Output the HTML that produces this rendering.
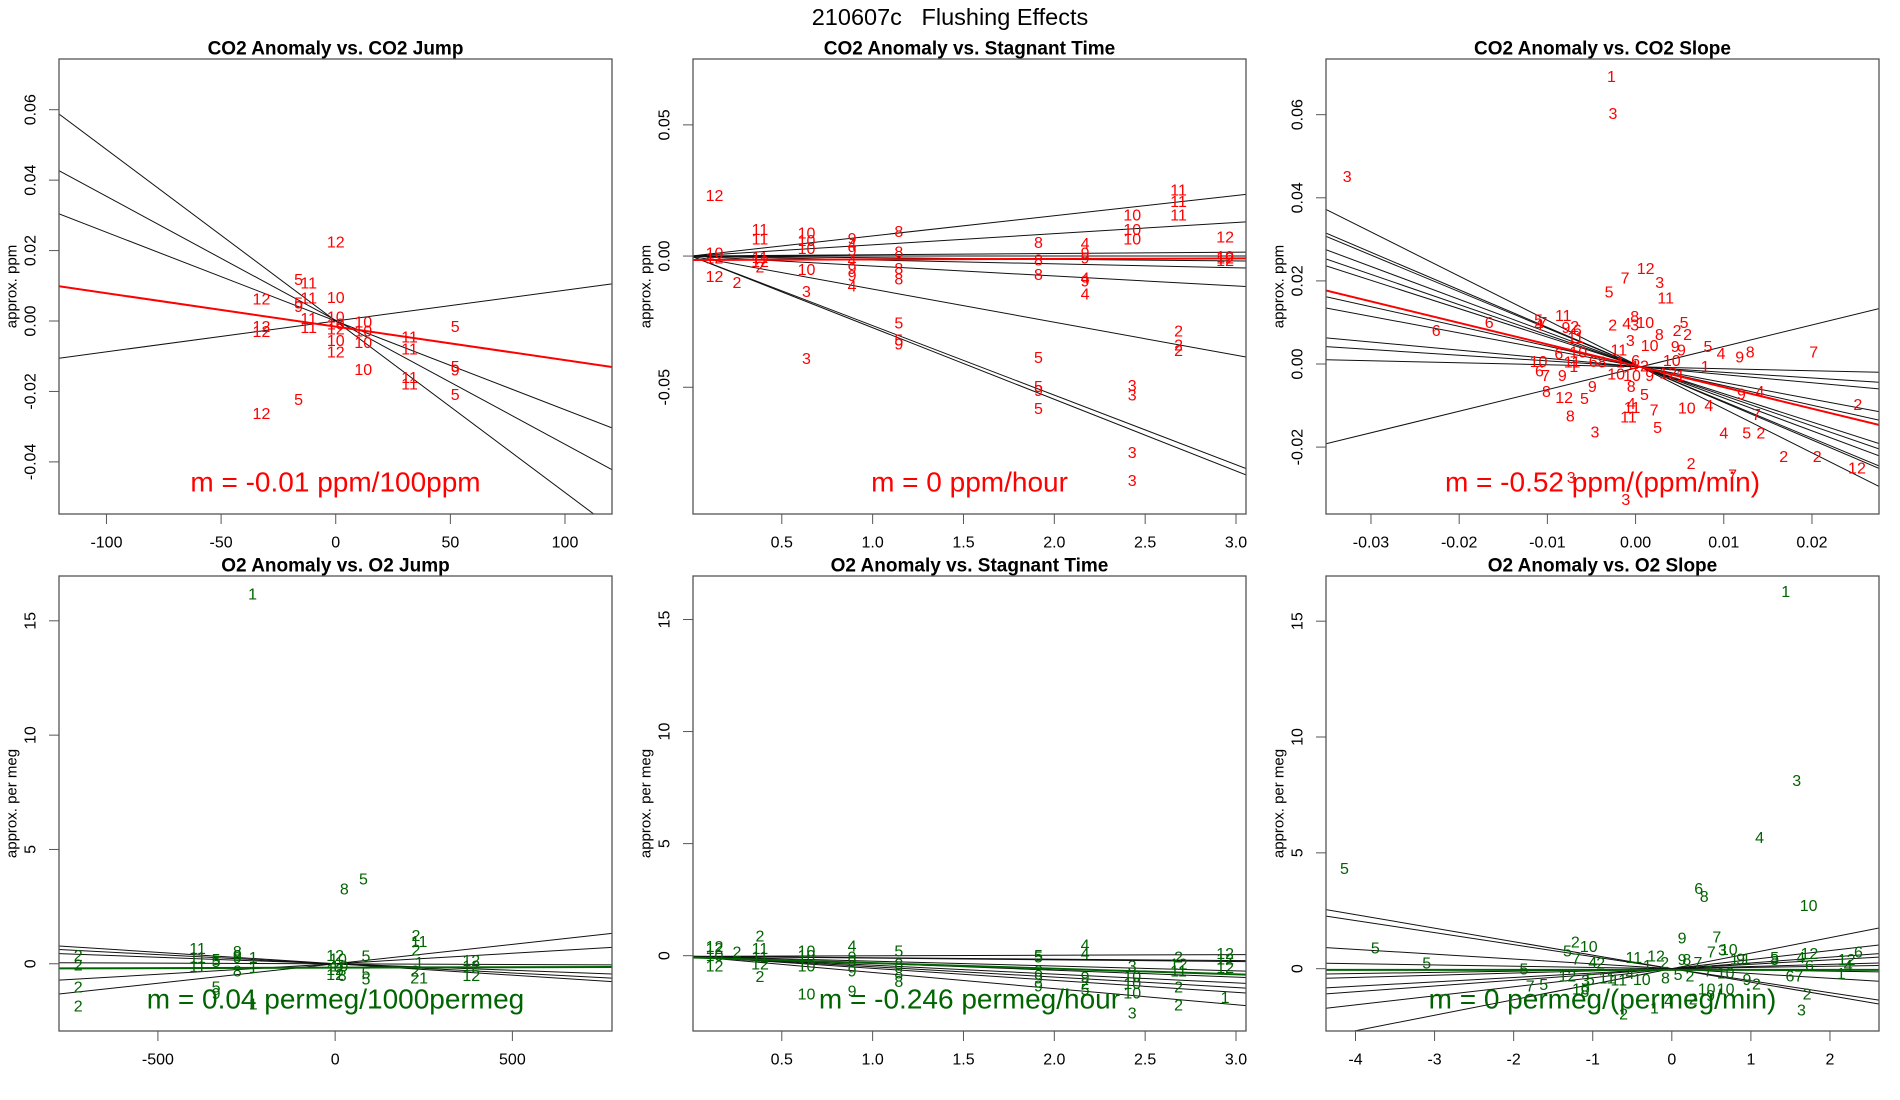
<!DOCTYPE html>
<html><head><meta charset="utf-8"><style>
html,body{margin:0;padding:0;background:#fff;}
svg{display:block;font-family:"Liberation Sans",Arial,sans-serif;}
</style></head><body>
<svg id="chart" width="1900" height="1100" viewBox="0 0 1900 1100" xmlns="http://www.w3.org/2000/svg">
<rect x="0" y="0" width="1900" height="1100" fill="#fff"/>
<text x="950" y="17" font-size="23.5" text-anchor="middle" dominant-baseline="central" fill="#000" xml:space="preserve">210607c   Flushing Effects</text>
</svg>
<script>
// ---------- Panel 1: CO2 Anomaly vs. CO2 Jump ----------
const p1Labels = ["12","5","11","12","11","10","5","9","11","10","12","12","11","10","12","10","10","10","10","12","10","5","11","11","5","9","11","11","5","5","12"];
const p1X = [0,-16.2,-11.8,-32.4,-11.8,0,-16.2,-16.2,-11.8,0,-32.4,-32.4,-11.8,0,0,12,12,0,12,0,12,52.1,32.2,32.2,52.1,52.1,32.2,32.2,52.1,-16.2,-32.4];
const p1Y = [0.0221,0.0115,0.0105,0.0059,0.0062,0.0064,0.0048,0.0038,0.0004,0.0009,-0.0018,-0.0033,-0.0021,-0.0011,-0.0026,-0.0006,-0.0031,-0.0058,-0.0064,-0.0091,-0.014,-0.0018,-0.0048,-0.0083,-0.0132,-0.0142,-0.0163,-0.0182,-0.0212,-0.0225,-0.0265];
const p1Slopes = [-0.000487,-0.000352,-0.000252,0.0000875];
const p1Intercepts = [0,0.0002,0,0];
const p1Fit = [-0.000095,-0.0016];
const p1XTicks = [-100,-50,0,50,100];
const p1YTicks = [-0.04,-0.02,0.00,0.02,0.04,0.06];
const p1YTickLabels = ["-0.04","-0.02","0.00","0.02","0.04","0.06"];

// ---------- Panel 2: CO2 Anomaly vs. Stagnant Time ----------
const p2Labels = ["12","10","12","12","2","11","11","11","12","2","10","10","10","10","3","3","9","4","9","4","9","9","4","8","8","8","8","5","5","9","8","8","8","5","5","9","5","4","9","9","4","9","4","10","10","10","3","3","3","3","11","11","11","2","2","2","12","10","12","12"];
const p2X = [0.13,0.13,0.13,0.13,0.253,0.38,0.38,0.38,0.38,0.38,0.636,0.636,0.636,0.636,0.636,0.636,0.887,0.887,0.887,0.887,0.887,0.887,0.887,1.144,1.144,1.144,1.144,1.144,1.144,1.144,1.913,1.913,1.913,1.913,1.913,1.913,1.913,2.169,2.169,2.169,2.169,2.169,2.169,2.429,2.429,2.429,2.429,2.429,2.429,2.429,2.684,2.684,2.684,2.684,2.684,2.684,2.94,2.94,2.94,2.94];
const p2Y = [0.0227,0.0007,-0.0012,-0.0081,-0.0105,0.0097,0.0061,-0.0009,-0.0025,-0.0045,0.0084,0.0055,0.0025,-0.0055,-0.0138,-0.0394,0.0064,0.0041,0.0017,-0.0018,-0.0052,-0.0078,-0.0118,0.009,0.0012,-0.0052,-0.0092,-0.0258,-0.0324,-0.0338,0.0048,-0.0019,-0.0074,-0.0391,-0.0501,-0.0517,-0.0584,0.0045,0.0008,-0.0012,-0.0088,-0.0098,-0.0149,0.0152,0.0098,0.0061,-0.0497,-0.0533,-0.0753,-0.086,0.0247,0.0205,0.0152,-0.0289,-0.0342,-0.0364,0.0068,-0.0005,-0.0012,-0.002];
const p2Slopes = [0.00769,0.00427,0.00049,0,-0.00062,-0.00149,-0.0038,-0.0126,-0.0265,-0.0273];
const p2Intercepts = [0,0,0,0,0,0,0,0,0,0];
const p2Fit = [0.0002,-0.0015];
const p2XTicks = [0.5,1.0,1.5,2.0,2.5,3.0];
const p2XTickLabels = ["0.5","1.0","1.5","2.0","2.5","3.0"];
const p2YTicks = [-0.05,0.00,0.05];
const p2YTickLabels = ["-0.05","0.00","0.05"];

// ---------- Panel 3: CO2 Anomaly vs. CO2 Slope ----------
const p3Labels = ["1","3","3","12","7","3","5","11","11","5","4","7","9","2","6","2","4","8","3","10","6","6","11","8","2","2","5","3","10","9","9","5","4","9","8","7","11","6","10","10","11","1","6","8","1","6","4","2","10","1","6","7","9","10","10","9","12","1","9","8","8","12","5","5","9","4","4","11","11","7","10","4","8","7","3","5","4","5","2","2","2","2","12","2","3","7","3"];
const p3X = [-0.00274,-0.00256,-0.0327,0.00114,-0.00119,0.00274,-0.003,0.00342,-0.0082,-0.011,-0.011,-0.0105,-0.0079,-0.0069,-0.0226,-0.0026,-0.001,-0.0001,-0.0001,0.0011,-0.0066,-0.0166,-0.0068,0.0027,0.0047,0.0059,0.0055,-0.0006,0.0016,0.0045,0.0052,0.0082,0.0097,0.0118,0.013,0.0202,-0.0019,-0.0087,-0.0065,-0.011,-0.0072,-0.007,-0.0048,-0.0038,-0.0017,0,-0.0002,0.001,0.0041,0.0079,-0.0109,-0.0102,-0.0083,-0.0022,-0.0004,0.0016,0.0037,0.0051,-0.0049,-0.0101,-0.0005,-0.0081,-0.0058,0.001,0.012,0.0141,-0.0005,-0.0004,-0.0008,0.0021,0.0058,0.0083,-0.0074,0.0137,-0.0046,0.0025,0.01,0.0126,0.0142,0.0168,0.0206,0.0252,0.0251,0.0063,-0.0073,0.011,-0.0011];
const p3Y = [0.069,0.0601,0.0449,0.0228,0.0205,0.0194,0.0171,0.0157,0.0114,0.0103,0.0091,0.0097,0.0086,0.0088,0.0078,0.0091,0.0095,0.0112,0.0091,0.0097,0.008,0.0097,0.0061,0.0068,0.0078,0.0068,0.0097,0.0054,0.0042,0.004,0.0031,0.004,0.0023,0.0014,0.0027,0.0027,0.0031,0.0023,0.0027,0.0003,0.0002,-0.0008,0.0003,0.0002,0.0002,0.0006,-0.0007,-0.0007,0.0006,-0.0008,-0.0019,-0.003,-0.003,-0.0026,-0.003,-0.003,-0.0024,-0.003,-0.0056,-0.0068,-0.0056,-0.0083,-0.0086,-0.0076,-0.0075,-0.0068,-0.0098,-0.0107,-0.013,-0.0113,-0.0108,-0.0102,-0.0127,-0.0124,-0.0166,-0.0155,-0.0169,-0.0168,-0.0168,-0.0225,-0.0225,-0.01,-0.0253,-0.0242,-0.0276,-0.0269,-0.0329];
const p3Slopes = [-1.063,-0.903,-0.881,-0.791,-0.729,-0.682,-0.474,-0.398,-0.196,-0.137,-0.048,0.519];
const p3Intercepts = [-0.000115,-0.000203,-0.000215,-0.000265,-0.000299,-0.000325,-0.000439,-0.000481,-0.000592,-0.000625,-0.000674,-0.000985];
const p3Fit = [-0.516,-0.000416];
const p3XTicks = [-0.03,-0.02,-0.01,0.00,0.01,0.02];
const p3XTickLabels = ["-0.03","-0.02","-0.01","0.00","0.01","0.02"];
const p3YTicks = [-0.02,0.00,0.02,0.04,0.06];
const p3YTickLabels = ["-0.02","0.00","0.02","0.04","0.06"];

// ---------- Panel 4: O2 Anomaly vs. O2 Jump ----------
const p4Labels = ["1","5","8","2","2","2","2","11","11","11","5","5","5","9","8","8","9","8","1","1","1","12","10","10","12","12","8","5","5","5","2","11","2","1","2","21","12","12","12"];
const p4X = [-233,80,26,-725,-725,-725,-725,-388,-388,-388,-336,-336,-336,-336,-276,-276,-276,-276,-231,-231,-231,0,8,12,0,0,20,87,87,87,228,237,228,237,226,237,384,384,384];
const p4Y = [16.13,3.67,3.22,0.32,-0.1,-1.05,-1.89,0.62,0.24,-0.17,0.14,0.05,-1.05,-1.35,0.5,0.32,0.24,-0.37,0.24,-0.2,-1.81,0.32,0.17,-0.14,-0.29,-0.52,-0.56,0.29,-0.44,-0.72,1.2,0.93,0.55,0.02,-0.37,-0.67,0.09,-0.14,-0.56];
const p4Slopes = [-0.001,-0.0008,-0.00057,-0.00006,0.00092,0.0017];
const p4Intercepts = [0,0,0,0,0,0];
const p4Fit = [0.00004,-0.17];
const p4XTicks = [-500,0,500];
const p4YTicks = [0,5,10,15];

// ---------- Panel 5: O2 Anomaly vs. Stagnant Time ----------
const p5Labels = ["12","12","10","12","2","2","11","11","12","2","10","10","10","10","4","9","9","9","9","5","8","8","8","5","5","8","9","9","4","4","9","2","5","3","10","10","10","3","2","12","11","2","2","12","12","12","1"];
const p5X = [0.13,0.13,0.13,0.13,0.253,0.38,0.38,0.38,0.38,0.38,0.636,0.636,0.636,0.636,0.887,0.887,0.887,0.887,0.887,1.144,1.144,1.144,1.144,1.913,1.913,1.913,1.913,1.913,2.169,2.169,2.169,2.169,2.169,2.429,2.429,2.429,2.429,2.429,2.684,2.684,2.684,2.684,2.684,2.94,2.94,2.94,2.94];
const p5Y = [0.36,0.28,-0.03,-0.5,0.13,0.83,0.28,-0.11,-0.42,-0.97,0.16,-0.03,-0.5,-1.75,0.39,-0.11,-0.31,-0.73,-1.63,0.16,-0.42,-0.81,-1.2,-0.03,-0.11,-0.73,-1.05,-1.4,0.44,0.05,-1.0,-1.28,-1.56,-0.5,-0.97,-1.28,-1.72,-2.61,-0.11,-0.42,-0.73,-1.44,-2.25,0.05,-0.19,-0.58,-1.91];
const p5Slopes = [0.026,-0.062,-0.077,-0.216,-0.308,-0.395,-0.463,-0.535,-0.719];
const p5Intercepts = [-0.03,-0.03,-0.03,-0.03,-0.03,-0.03,-0.03,-0.03,-0.03];
const p5Fit = [-0.25,-0.08];
const p5XTicks = [0.5,1.0,1.5,2.0,2.5,3.0];
const p5XTickLabels = ["0.5","1.0","1.5","2.0","2.5","3.0"];
const p5YTicks = [0,5,10,15];

// ---------- Panel 6: O2 Anomaly vs. O2 Slope ----------
const p6Labels = ["1","3","4","5","6","8","10","5","5","9","7","7","10","3","2","10","5","7","4","2","5","12","7","5","3","5","10","8","11","11","4","10","11","12","1","2","8","5","2","9","8","7","7","10","1","9","1","9","2","10","10","9","1","4","2","2","5","8","4","12","6","6","12","4","1","67","2","3"];
const p6X = [1.44,1.58,1.11,-4.14,0.34,0.41,1.73,-3.75,-3.1,0.13,0.57,0.5,0.72,0.64,-1.22,-1.05,-1.32,-1.21,-1.0,-0.9,-1.87,-1.32,-1.79,-1.62,-1.09,-1.03,-1.15,-1.1,-0.82,-0.67,-0.53,-0.38,-0.48,-0.2,-0.31,-0.09,-0.08,0.08,0.23,0.13,0.19,0.33,0.46,0.68,0.79,0.87,0.94,0.95,1.07,0.44,0.68,0.49,-0.22,-0.04,0.27,-0.61,1.3,1.3,1.63,1.74,1.74,2.36,2.21,2.23,2.14,1.55,1.71,1.64];
const p6Y = [16.24,8.08,5.61,4.29,3.41,3.08,2.68,0.86,0.2,1.29,1.32,0.68,0.79,0.76,1.1,0.91,0.71,0.38,0.23,0.2,-0.05,-0.35,-0.8,-0.73,-0.56,-0.5,-0.91,-1.02,-0.45,-0.53,-0.26,-0.5,0.45,0.5,0.1,0.23,-0.45,-0.3,-0.35,0.35,0.35,0.23,-0.15,-0.23,0.38,0.38,0.38,-0.5,-0.71,-0.91,-0.91,-1.21,-1.74,-1.44,-1.36,-2.0,0.45,0.35,0.45,0.61,0.1,0.68,0.35,0.1,-0.26,-0.35,-1.14,-1.82];
const p6Slopes = [-0.583,-0.519,-0.208,-0.053,0.053,0.094,0.19,0.249,0.391,0.67];
const p6Intercepts = [0,0,0,0,0,0,0,0,0,0];
const p6Fit = [0,-0.05];
const p6XTicks = [-4,-3,-2,-1,0,1,2];
const p6YTicks = [0,5,10,15];

const NS = "http://www.w3.org/2000/svg";
const svg = document.getElementById("chart");
function mk(tag, attrs, parent){
  const e = document.createElementNS(NS, tag);
  for (const k in attrs) e.setAttribute(k, attrs[k]);
  (parent||svg).appendChild(e);
  return e;
}

function panel(cfg){
  const L = cfg.left, T = cfg.top, W = 553, H = 455;
  const sx = v => L + (v - cfg.xlim[0]) / (cfg.xlim[1] - cfg.xlim[0]) * W;
  const sy = v => T + H - (v - cfg.ylim[0]) / (cfg.ylim[1] - cfg.ylim[0]) * H;
  const g = mk("g", {});
  
  
  const clipId = cfg.name + "-clip";
  const cp = mk("clipPath", {id: clipId}, g);
  mk("rect", {x: L, y: T, width: W, height: H}, cp);

  const title = mk("text", {x: L + W/2, y: T - 10, "font-size": 19, "font-weight": "bold", "text-anchor": "middle", "dominant-baseline": "central"}, g);
  title.textContent = cfg.title;
  
  

  const ylab = mk("text", {x: L - 47, y: T + H/2, "font-size": 15, "text-anchor": "middle", "dominant-baseline": "central", transform: `rotate(-90 ${L-47} ${T+H/2})`}, g);
  ylab.textContent = cfg.ylab;
  
  

  cfg.xticks.forEach((v, i) => {
    const x = sx(v);
    const t = mk("line", {x1: x, x2: x, y1: T + H, y2: T + H + 10, stroke: "#555", "stroke-width": 1}, g);
    
    
    const lb = mk("text", {x: x, y: T + H + 29, "font-size": 16, "text-anchor": "middle", "dominant-baseline": "central"}, g);
    lb.textContent = cfg.xtickLabels ? cfg.xtickLabels[i] : String(v);
    
    
  });
  cfg.yticks.forEach((v, i) => {
    const y = sy(v);
    const t = mk("line", {x1: L - 10, x2: L, y1: y, y2: y, stroke: "#555", "stroke-width": 1}, g);
    
    
    const lb = mk("text", {x: L - 28, y: y, "font-size": 16, "text-anchor": "middle", "dominant-baseline": "central", transform: `rotate(-90 ${L-28} ${y})`}, g);
    lb.textContent = cfg.ytickLabels ? cfg.ytickLabels[i] : String(v);
    
    
  });

  const inner = mk("g", {"clip-path": `url(#${clipId})`}, g);
  cfg.slopes.forEach((m, i) => {
    const b = cfg.intercepts[i];
    const x0 = cfg.xlim[0], x1 = cfg.xlim[1];
    const ln = mk("line", {x1: sx(x0), y1: sy(m*x0 + b), x2: sx(x1), y2: sy(m*x1 + b), stroke: "#111", "stroke-width": 1}, inner);
    
    
  });
  cfg.labels.forEach((lab, i) => {
    const t = mk("text", {x: sx(cfg.xs[i]), y: sy(cfg.ys[i]), "font-size": 16, fill: cfg.color, "text-anchor": "middle", "dominant-baseline": "central"}, inner);
    t.textContent = lab;
    
    
  });
  const fm = cfg.fit[0], fb = cfg.fit[1];
  const fl = mk("line", {x1: sx(cfg.xlim[0]), y1: sy(fm*cfg.xlim[0] + fb), x2: sx(cfg.xlim[1]), y2: sy(fm*cfg.xlim[1] + fb), stroke: cfg.color, "stroke-width": 2}, inner);
  
  

  const ml = mk("text", {x: L + W/2, y: cfg.mY, "font-size": 28, fill: cfg.color, "text-anchor": "middle", "dominant-baseline": "central"}, g);
  ml.textContent = cfg.mText;
  
  

  const box = mk("rect", {x: L, y: T, width: W, height: H, fill: "none", stroke: "#555", "stroke-width": 1.3}, g);
  
  
}

panel({name:"co2-vs-jump", left:59, top:59, xlim:[-120.7,120.5], ylim:[-0.0548,0.0744], title:"CO2 Anomaly vs. CO2 Jump", ylab:"approx. ppm",
  xticks:p1XTicks, yticks:p1YTicks, ytickLabels:p1YTickLabels, labels:p1Labels, xs:p1X, ys:p1Y, slopes:p1Slopes, intercepts:p1Intercepts, fit:p1Fit,
  color:"#ff0000", mText:"m = -0.01 ppm/100ppm", mY:482});
panel({name:"co2-vs-stagnant-time", left:693, top:59, xlim:[0.0113,3.055], ylim:[-0.0983,0.0751], title:"CO2 Anomaly vs. Stagnant Time", ylab:"approx. ppm",
  xticks:p2XTicks, xtickLabels:p2XTickLabels, yticks:p2YTicks, ytickLabels:p2YTickLabels, labels:p2Labels, xs:p2X, ys:p2Y, slopes:p2Slopes, intercepts:p2Intercepts, fit:p2Fit,
  color:"#ff0000", mText:"m = 0 ppm/hour", mY:482});
panel({name:"co2-vs-slope", left:1326, top:59, xlim:[-0.0351,0.0276], ylim:[-0.0361,0.0734], title:"CO2 Anomaly vs. CO2 Slope", ylab:"approx. ppm",
  xticks:p3XTicks, xtickLabels:p3XTickLabels, yticks:p3YTicks, ytickLabels:p3YTickLabels, labels:p3Labels, xs:p3X, ys:p3Y, slopes:p3Slopes, intercepts:p3Intercepts, fit:p3Fit,
  color:"#ff0000", mText:"m = -0.52 ppm/(ppm/min)", mY:482});
panel({name:"o2-vs-jump", left:59, top:576, xlim:[-779,781], ylim:[-2.94,16.96], title:"O2 Anomaly vs. O2 Jump", ylab:"approx. per meg",
  xticks:p4XTicks, yticks:p4YTicks, labels:p4Labels, xs:p4X, ys:p4Y, slopes:p4Slopes, intercepts:p4Intercepts, fit:p4Fit,
  color:"#006400", mText:"m = 0.04 permeg/1000permeg", mY:999});
panel({name:"o2-vs-stagnant-time", left:693, top:576, xlim:[0.0113,3.055], ylim:[-3.36,16.94], title:"O2 Anomaly vs. Stagnant Time", ylab:"approx. per meg",
  xticks:p5XTicks, xtickLabels:p5XTickLabels, yticks:p5YTicks, labels:p5Labels, xs:p5X, ys:p5Y, slopes:p5Slopes, intercepts:p5Intercepts, fit:p5Fit,
  color:"#006400", mText:"m = -0.246 permeg/hour", mY:999});
panel({name:"o2-vs-slope", left:1326, top:576, xlim:[-4.373,2.62], ylim:[-2.69,16.95], title:"O2 Anomaly vs. O2 Slope", ylab:"approx. per meg",
  xticks:p6XTicks, yticks:p6YTicks, labels:p6Labels, xs:p6X, ys:p6Y, slopes:p6Slopes, intercepts:p6Intercepts, fit:p6Fit,
  color:"#006400", mText:"m = 0 permeg/(permeg/min)", mY:999});
</script>
</body></html>
